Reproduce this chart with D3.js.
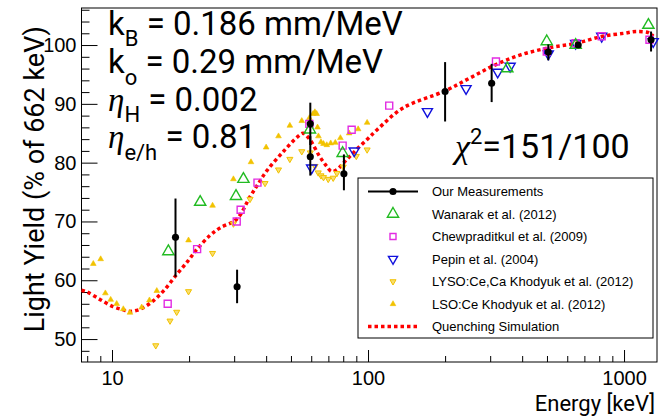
<!DOCTYPE html>
<html lang="en">
  <head>
    <meta charset="UTF-8">
    <title>Light Yield vs Energy</title>
    <style>
      body { margin: 0; background: white; }
      .axis path { display: none; }
      .axis line { stroke: black; stroke-width: 1; }
      .axis text { font-family: "Liberation Sans", Arial, sans-serif; font-size: 20px; fill: black; }
      .big { font-family: Roboto, sans-serif; font-size: 33px; fill: black; }
      .greek { font-family: "Liberation Serif", serif; font-style: italic; }
      .legend text { font-family: "Liberation Sans", Arial, sans-serif; font-size: 13px; fill: black; }
    </style>
    <script src="https://d3js.org/d3.v7.min.js"></script>
  </head>
  <body>
    <script>
      // values
      const ourE  = [17.7, 30.8, 59.5, 59.5, 80.5, 200, 304, 506, 662, 1275];
      const ourY  = [67.3, 58.9, 86.6, 81.0, 78.1, 92.1, 93.5, 98.8, 100, 100.9];
      const ourLo = [60.6, 56.1, 83.0, 77.8, 75.3, 87.0, 90.3, 97.4, 100, 98.9];
      const ourHi = [73.9, 61.8, 90.2, 84.5, 81.4, 97.1, 96.8, 100.1, 100, 102.3];

      const wanE = [16.6, 22.1, 30.5, 32.6, 59.3, 79.6, 350, 499, 647, 1245];
      const wanY = [64.9, 73.3, 74.3, 77.2, 85.6, 81.6, 96.0, 100.6, 100.0, 103.4];

      const chewE = [16.5, 21.5, 30.7, 31.8, 37.0, 59.0, 79.6, 86.3, 121, 316, 499, 647, 818, 1257];
      const chewY = [56.0, 65.3, 70.0, 72.0, 76.6, 86.6, 82.9, 85.6, 89.7, 97.2, 98.9, 100.3, 101.5, 100.9];

      const pepE = [60.2, 88.3, 170.6, 241.5, 321, 359, 506, 647, 818, 1300];
      const pepY = [79.1, 82.0, 88.7, 92.6, 95.4, 96.4, 98.5, 100.3, 101.5, 100.6];

      const lysoE = [14.82, 16.85, 17.89, 19.9, 24.7, 29.8, 34.6, 39.6, 44.7, 49.5, 55.1, 59.5,
                     62.1, 63.9, 65.5, 67.0, 69.9, 73.1, 75.6, 80.0, 90.0, 99.2];
      const lysoY = [48.9, 53.1, 54.6, 58.1, 64.6, 69.6, 73.8, 76.5, 78.8, 80.6, 81.9, 81.7,
                     79.4, 78.3, 77.8, 77.5, 77.2, 77.4, 78.2, 79.3, 81.1, 82.2];

      const lsoE = [8.45, 9.03, 9.42, 9.88, 10.43, 11.07, 11.75, 13.06, 14.0, 14.96, 19.9, 24.7,
                    29.8, 34.9, 40.0, 44.7, 49.5, 55.1, 59.0, 61.0, 62.0, 63.0, 63.5, 64.0, 65.5,
                    67.0, 69.0, 71.5, 74.5, 78.0, 84.4, 91.5, 99.2];
      const lsoY = [62.8, 63.6, 57.8, 56.7, 56.0, 55.1, 54.5, 55.4, 56.6, 58.2, 66.8, 72.7,
                    77.2, 80.1, 82.6, 84.5, 86.3, 87.1, 87.6, 88.3, 88.6, 88.3, 86.0, 84.5, 83.5,
                    83.2, 83.0, 83.3, 83.4, 84.2, 85.0, 85.7, 86.8];

      const simE = [7.6, 8.0, 9.0, 10.1, 11.0, 11.8, 12.9, 14.3, 15.9, 17.9, 19.9, 21.5, 24.1, 26.4,
                    30.7, 34.6, 37.0, 40.2, 46.7, 53.4, 55.8, 59.3, 64.6, 68.9, 72.0, 75.5, 82.5, 90.0,
                    98.9, 108.5, 137, 200, 250, 313, 392, 506, 650, 826, 1000, 1118, 1245, 1300];
      const simY = [58.3, 58.0, 56.7, 55.5, 55.0, 54.7, 55.1, 56.3, 58.2, 61.0, 63.4, 65.3, 67.6, 68.9,
                    70.4, 74.2, 76.2, 78.6, 81.9, 84.5, 85.0, 83.9, 81.1, 79.4, 78.5, 78.8, 80.5, 82.2,
                    83.9, 85.6, 89.3, 92.2, 94.4, 96.6, 98.3, 99.5, 100.3, 101.5, 102.0, 102.3, 102.1, 101.5];

      const yMajor = [50, 60, 70, 80, 90, 100];
      const xMajor = [10, 100, 1000];

      const legendLabels = ["Our Measurements", "Wanarak et al. (2012)", "Chewpraditkul et al. (2009)",
        "Pepin et al. (2004)", "LYSO:Ce,Ca Khodyuk et al. (2012)", "LSO:Ce Khodyuk et al. (2012)",
        "Quenching Simulation"];

      const width = 660;
      const height = 417;
      const frame = { left: 81.5, right: 657, top: 8, bottom: 362 };

      const green = "#22bb22", magenta = "#e22be2", blue = "#1010dd", gold = "#f2c200", red = "#ff0000";

      const svg = d3.select("body")
        .append("svg")
        .attr("width", width)
        .attr("height", height);

      const x = d3.scaleLog().domain([7.6, 1345]).range([frame.left, frame.right]);
      const y = d3.scaleLinear().domain([46.1, 106.3]).range([frame.bottom, frame.top]);

      // axes (ROOT style, ticks inside the frame)
      const yMinor = d3.range(48, 106.3, 2).filter(v => v % 10 != 0);
      svg.append("g").attr("class", "axis")
        .attr("transform", `translate(${frame.left},0)`)
        .call(d3.axisLeft(y).tickValues(yMinor).tickSize(-8).tickFormat(""));
      svg.append("g").attr("class", "axis")
        .attr("transform", `translate(${frame.left},0)`)
        .call(d3.axisLeft(y).tickValues(yMajor).tickSize(-16).tickPadding(5));

      const xMinor = [];
      [1, 10, 100, 1000].forEach(dec => {
        for (let k = 2; k <= 9; k++) {
          const v = dec * k;
          if (v >= 7.6 && v <= 1345) xMinor.push(v);
        }
      });
      svg.append("g").attr("class", "axis")
        .attr("transform", `translate(0,${frame.bottom})`)
        .call(d3.axisBottom(x).tickValues(xMinor).tickSize(-6).tickFormat(""));
      svg.append("g").attr("class", "axis")
        .attr("transform", `translate(0,${frame.bottom})`)
        .call(d3.axisBottom(x).tickValues(xMajor).tickSize(-12).tickPadding(9).tickFormat(d3.format("d")));

      svg.append("rect")
        .attr("x", frame.left).attr("y", frame.top)
        .attr("width", frame.right - frame.left).attr("height", frame.bottom - frame.top)
        .attr("fill", "none").attr("stroke", "black").attr("stroke-width", 1);

      // axis titles
      svg.append("text")
        .attr("class", "big")
        .style("font-size", "22px")
        .attr("text-anchor", "end")
        .attr("x", 655).attr("y", 411)
        .text("Energy [keV]");

      svg.append("text")
        .attr("class", "big")
        .style("font-size", "27px")
        .attr("text-anchor", "end")
        .attr("transform", "translate(44,26) rotate(-90)")
        .text("Light Yield (% of 662 keV)");

      // quenching simulation
      const line = d3.line()
        .x((d, i) => x(simE[i]))
        .y(d => y(d))
        .curve(d3.curveCatmullRom.alpha(0.5));
      svg.append("path")
        .attr("d", line(simY))
        .attr("fill", "none")
        .attr("stroke", red)
        .attr("stroke-width", 3.5)
        .attr("stroke-dasharray", "3.5 3");

      const sym = (type, size) => d3.symbol().type(type).size(size)();

      function drawMarkers(es, vs, path, fill, stroke, sw, rot) {
        svg.append("g").selectAll("path")
          .data(vs)
          .enter()
          .append("path")
          .attr("d", path)
          .attr("transform", (d, i) => `translate(${x(es[i])},${y(d)}) rotate(${rot})`)
          .attr("fill", fill)
          .attr("stroke", stroke)
          .attr("stroke-width", sw);
      }

      drawMarkers(lsoE, lsoY, sym(d3.symbolTriangle, 14), gold, gold, 0.6, 0);
      drawMarkers(lysoE, lysoY, sym(d3.symbolTriangle, 16), "#f8de70", gold, 1, 180);
      drawMarkers(pepE, pepY, sym(d3.symbolTriangle, 44), "none", blue, 1.4, 180);
      drawMarkers(chewE, chewY, sym(d3.symbolSquare, 49), "none", magenta, 1.4, 0);
      drawMarkers(wanE, wanY, sym(d3.symbolTriangle, 55), "none", green, 1.4, 0);

      // our measurements with error bars
      svg.append("g").selectAll("line")
        .data(ourY)
        .enter()
        .append("line")
        .attr("x1", (d, i) => x(ourE[i])).attr("x2", (d, i) => x(ourE[i]))
        .attr("y1", (d, i) => y(ourLo[i])).attr("y2", (d, i) => y(ourHi[i]))
        .attr("stroke", "black").attr("stroke-width", 2);
      drawMarkers(ourE, ourY, sym(d3.symbolCircle, 40), "black", "none", 0, 0);

      // fit parameter text
      const params = [
        { y: 35, a: "k", sub: "B", dy: 11, rest: " = 0.186 mm/MeV", greek: false },
        { y: 73, a: "k", sub: "o", dy: 12, rest: " = 0.29 mm/MeV", greek: false },
        { y: 111, a: "η", sub: "H", dy: 11, rest: " = 0.002", greek: true },
        { y: 148, a: "η", sub: "e/h", dy: 12, rest: " = 0.81", greek: true }
      ];
      params.forEach(p => {
        const t = svg.append("text").attr("class", "big").attr("x", 108).attr("y", p.y);
        t.append("tspan").attr("class", p.greek ? "greek" : null).text(p.a);
        t.append("tspan").attr("dy", p.dy).style("font-size", "22px").text(p.sub);
        t.append("tspan").attr("dy", -p.dy).text(p.rest);
      });

      const chi = svg.append("text").attr("class", "big").style("font-size", "34px").attr("x", 455).attr("y", 158);
      chi.append("tspan").attr("class", "greek").text("χ");
      chi.append("tspan").attr("dy", -14).style("font-size", "22px").text("2");
      chi.append("tspan").attr("dy", 14).text("=151/100");

      // legend
      const lg = svg.append("g").attr("class", "legend");
      lg.append("rect")
        .attr("x", 358).attr("y", 178).attr("width", 295).attr("height", 160)
        .attr("fill", "white").attr("stroke", "black").attr("stroke-width", 1);
      const rowY = i => 191.5 + i * 22.5;
      lg.selectAll("text.lab")
        .data(legendLabels)
        .enter()
        .append("text")
        .attr("class", "lab")
        .attr("x", 432)
        .attr("y", (d, i) => rowY(i))
        .attr("dy", "0.35em")
        .text(d => d);
      lg.append("line").attr("x1", 368).attr("x2", 418).attr("y1", rowY(0)).attr("y2", rowY(0))
        .attr("stroke", "black").attr("stroke-width", 2);
      lg.append("path").attr("d", sym(d3.symbolCircle, 40)).attr("transform", `translate(393,${rowY(0)})`);
      const legMarks = [
        [sym(d3.symbolTriangle, 55), "none", green, 1.4, 0],
        [sym(d3.symbolSquare, 36), "none", magenta, 1.4, 0],
        [sym(d3.symbolTriangle, 36), "none", blue, 1.4, 180],
        [sym(d3.symbolTriangle, 16), "#f8de70", gold, 1, 180],
        [sym(d3.symbolTriangle, 14), gold, gold, 0.6, 0]
      ];
      legMarks.forEach((m, k) => {
        lg.append("path").attr("d", m[0])
          .attr("transform", `translate(393,${rowY(k + 1)}) rotate(${m[4]})`)
          .attr("fill", m[1]).attr("stroke", m[2]).attr("stroke-width", m[3]);
      });
      lg.append("line").attr("x1", 368).attr("x2", 418).attr("y1", rowY(6)).attr("y2", rowY(6))
        .attr("stroke", red).attr("stroke-width", 3.5).attr("stroke-dasharray", "3.5 3");
    </script>
  </body>
</html>
